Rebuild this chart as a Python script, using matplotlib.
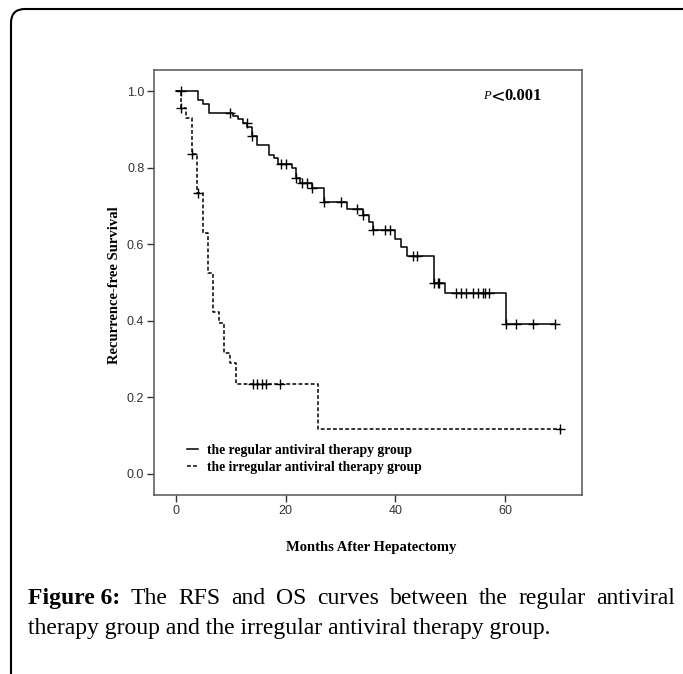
import matplotlib
matplotlib.use('Agg')
import matplotlib.pyplot as plt
import numpy as np
from matplotlib.patches import FancyBboxPatch

# regular antiviral therapy group (solid): step times (months) and survival after each step
reg_t = [0, 3.96, 4.98, 6.02, 10.45, 11.36, 12.16, 13.0, 13.8, 14.8, 16.96, 17.87, 18.65,
         21.1, 21.8, 22.6, 24.85, 27.0, 31.1, 34.0, 35.1, 36.0, 39.9, 41.0, 42.1, 47.1, 49.0, 60.1]
reg_s = [1.0, 0.976, 0.966, 0.942, 0.935, 0.926, 0.917, 0.905, 0.883, 0.859, 0.833, 0.824, 0.809,
         0.798, 0.772, 0.759, 0.746, 0.709, 0.692, 0.676, 0.657, 0.637, 0.614, 0.594, 0.570, 0.500, 0.472, 0.392]
reg_end = 69.1
reg_cens = [0.9, 9.85, 12.9, 13.8, 19.1, 20.0, 21.8, 22.9, 23.8, 24.85, 27.0, 30.0, 33.0, 34.0,
            36.0, 38.1, 39.0, 43.2, 44.0, 47.1, 47.7, 48.0, 51.0, 52.0, 52.9, 54.1, 55.0, 55.9,
            56.3, 57.1, 60.1, 62.0, 65.0, 69.1]

# irregular antiviral therapy group (dashed)
irr_t = [0, 0.9, 1.8, 2.86, 3.77, 4.98, 5.9, 6.8, 7.84, 8.75, 9.85, 10.94, 25.9]
irr_s = [1.0, 0.955, 0.930, 0.835, 0.733, 0.628, 0.524, 0.424, 0.393, 0.315, 0.289, 0.235, 0.117]
irr_end = 70.0
irr_cens = [0.9, 2.86, 4.07, 14.0, 14.8, 15.6, 16.5, 19.0, 70.0]

labels = ['the regular antiviral therapy group', 'the irregular antiviral therapy group']
xticks = [0, 20, 40, 60]
yticks = [0.0, 0.2, 0.4, 0.6, 0.8, 1.0]

W, H = 683, 674
fig = plt.figure(figsize=(W / 100, H / 100), dpi=100)
ax = fig.add_axes([154 / W, 179 / H, 428 / W, 425 / H])

def draw_group(t, s, end, cens, ls, label):
    t = np.array(t); s = np.array(s)
    ax.step(np.append(t, end), np.append(s, s[-1]), where='post', color='k', lw=1.1,
            ls=ls, label=label)
    idx = np.searchsorted(t, cens, side='right') - 1
    ax.plot(cens, s[idx], '+', color='k', ms=7, mew=1.0, ls='none')

draw_group(reg_t, reg_s, reg_end, reg_cens, '-', labels[0])
draw_group(irr_t, irr_s, irr_end, irr_cens, (0, (2.5, 1.5)), labels[1])

ax.set_xlim(-4, 74)
ax.set_ylim(-0.055, 1.055)
ax.set_xticks(xticks)
ax.set_yticks(yticks)
ax.set_yticklabels(['%.1f' % v for v in yticks])
ax.tick_params(direction='out', length=5, width=1, color='#333333', labelcolor='#333333',
               labelsize=9, pad=2)
for lab in ax.get_xticklabels() + ax.get_yticklabels():
    lab.set_family('Liberation Sans')
for sp in ax.spines.values():
    sp.set_color('#555555')
    sp.set_linewidth(1.1)

lab_font = {'family': 'Liberation Serif', 'weight': 'bold', 'size': 10.5}
ax.set_xlabel('Months After Hepatectomy', fontdict=lab_font)
ax.xaxis.set_label_coords(0.508, -0.108)
ax.set_ylabel('Recurrence-free Survival', fontdict=lab_font)
ax.yaxis.set_label_coords(-0.078, 0.494)

ax.legend(loc='upper left', bbox_to_anchor=(0.077, 0.12), frameon=False,
          prop={'family': 'Liberation Serif', 'weight': 'bold', 'size': 9.8},
          handlelength=0.8, handletextpad=0.7, labelspacing=0.3, borderpad=0, borderaxespad=0)

ax.text(0.769, 0.939, 'P', transform=ax.transAxes, fontsize=9, style='italic',
        family='Liberation Serif', va='center')
ax.text(0.785, 0.936, '<', transform=ax.transAxes, fontsize=12.5,
        family='DejaVu Sans', va='center')
ax.text(0.818, 0.939, '0.001', transform=ax.transAxes, fontsize=12, weight='bold',
        family='Liberation Serif', va='center')

# outer frame with rounded corner (right side runs off the image)
frame = FancyBboxPatch((0.11, -0.5), 6.9, 7.15, boxstyle='round,pad=0,rounding_size=0.14',
                       transform=fig.dpi_scale_trans, fill=False, ec='k', lw=1.5, clip_on=False)
fig.patches.append(frame)

# caption, first line justified
cap_size = 17
left_px, right_px = 28, 675
y1 = (H - 604) / H
y2 = (H - 634) / H
words = ['Figure 6:', 'The', 'RFS', 'and', 'OS', 'curves', 'between', 'the', 'regular', 'antiviral']
texts = []
for i, w in enumerate(words):
    texts.append(fig.text(0, y1, w, fontsize=cap_size, family='Liberation Serif',
                          weight='bold' if i == 0 else 'normal', va='baseline'))
fig.canvas.draw()
r = fig.canvas.get_renderer()
widths = [t.get_window_extent(r).width for t in texts]
gap = (right_px - left_px - sum(widths)) / (len(words) - 1)
x = left_px
for t, w in zip(texts, widths):
    t.set_x(x / W)
    x += w + gap
fig.text(left_px / W, y2, 'therapy group and the irregular antiviral therapy group.',
         fontsize=cap_size, family='Liberation Serif', va='baseline')

fig.savefig('out.png', dpi=100)
